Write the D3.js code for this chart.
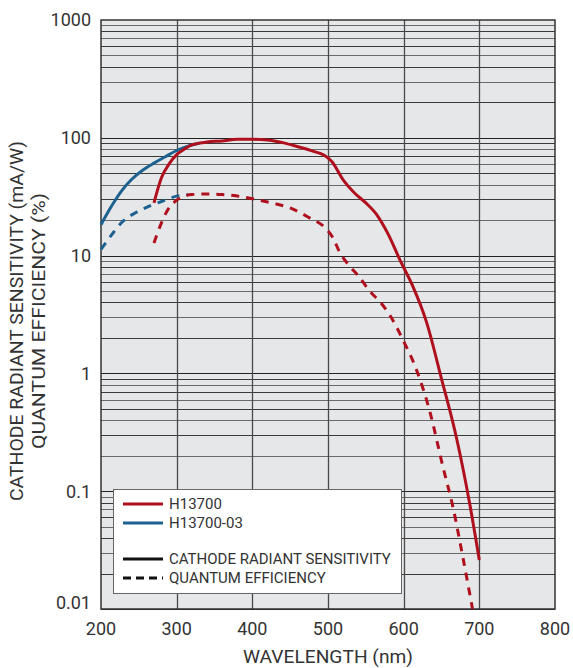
<!DOCTYPE html>
<html>
<head>
<meta charset="utf-8">
<script src="https://cdn.jsdelivr.net/npm/d3@7"></script>
<style>
  body { margin: 0; background: #fff; }
  text { font-family: Roboto, "Noto Sans", sans-serif; fill: #333; }
</style>
</head>
<body>
<svg id="chart" width="573" height="668"></svg>
<script>
// H13700 (red) and H13700-03 (blue) spectral response
const redCrsNm  = [270, 280, 290, 300, 310, 320, 340, 360, 380, 400, 420, 440, 460, 480, 495, 505, 520, 535, 550, 565, 580, 595, 612, 630, 650, 670, 687, 700];
const redCrsVal = [28, 46, 60, 72, 80, 87, 92, 94, 97, 97, 96, 91, 84, 77, 71, 63, 44, 34, 28, 22, 15, 9.2, 5.5, 2.75, 0.9, 0.28, 0.08, 0.026];

const redQeNm  = [270, 278, 287, 298, 310, 320, 340, 360, 380, 400, 425, 450, 475, 495, 507, 515, 529, 542, 555, 568, 582, 599, 617, 634, 652, 665, 678, 691];
const redQeVal = [12.8, 17.7, 23.7, 28.8, 32, 33, 33.3, 33, 32, 30.4, 28, 25.4, 21, 17.5, 14, 10.8, 8.1, 6.5, 5, 4.1, 3.1, 1.93, 1.07, 0.49, 0.16, 0.074, 0.028, 0.01];

const blueCrsNm  = [200, 215, 228, 240, 255, 270, 285, 300, 315, 330];
const blueCrsVal = [18.3, 27, 36, 44, 53, 61, 69, 78, 85, 90];

const blueQeNm  = [200, 214, 227, 245, 262, 280, 300, 315];
const blueQeVal = [11.3, 15, 19, 23, 26, 28.8, 32, 32.8];

const xTicks = [200, 300, 400, 500, 600, 700, 800];
const yTicks = [0.01, 0.1, 1, 10, 100, 1000];
const yTickLabels = ["0.01", "0.1", "1", "10", "100", "1000"];

const RED = "#b0101e", BLUE = "#1d6190";

const svg = d3.select("#chart");
const m = { left: 101, right: 555, top: 20, bottom: 609 };

const x = d3.scaleLinear().domain([200, 800]).range([m.left, m.right]);
const y = d3.scaleLog().domain([0.01, 1000]).range([m.bottom, m.top]);

// plot background
svg.append("rect")
  .attr("x", m.left).attr("y", m.top)
  .attr("width", m.right - m.left).attr("height", m.bottom - m.top)
  .attr("fill", "#e6e7e9");

// grid
const minor = [];
for (let e = -2; e < 3; e++) for (let k = 1; k <= 9; k++) minor.push(k * Math.pow(10, e));

svg.append("g").selectAll("line").data(minor).enter().append("line")
  .attr("x1", m.left).attr("x2", m.right)
  .attr("y1", d => Math.round(y(d)) + 0.5).attr("y2", d => Math.round(y(d)) + 0.5)
  .attr("stroke", (d, i) => (i % 9 === 0) ? "#222" : (i % 2 ? "#3a3a3a" : "#6a6a6a"))
  .attr("stroke-width", 1.2);

svg.append("g").selectAll("line").data(xTicks.slice(1, -1)).enter().append("line")
  .attr("x1", d => Math.round(x(d)) + 0.5).attr("x2", d => Math.round(x(d)) + 0.5)
  .attr("y1", m.top).attr("y2", m.bottom)
  .attr("stroke", "#4a4a4a").attr("stroke-width", 1.3);

svg.append("rect")
  .attr("x", m.left).attr("y", m.top)
  .attr("width", m.right - m.left).attr("height", m.bottom - m.top)
  .attr("fill", "none").attr("stroke", "#333").attr("stroke-width", 1.5);

// curves
const line = d3.line()
  .x(d => x(d[0])).y(d => y(d[1]))
  .curve(d3.curveMonotoneX);

function drawCurve(nm, vals, color, dashed) {
  svg.append("path")
    .datum(nm.map((n, i) => [n, vals[i]]))
    .attr("d", line)
    .attr("fill", "none")
    .attr("stroke", color)
    .attr("stroke-width", 3)
    .attr("stroke-dasharray", dashed ? "8,7" : null);
}
drawCurve(blueQeNm, blueQeVal, BLUE, true);
drawCurve(blueCrsNm, blueCrsVal, BLUE, false);
drawCurve(redQeNm, redQeVal, RED, true);
drawCurve(redCrsNm, redCrsVal, RED, false);

// axes labels
svg.append("g").selectAll("text").data(xTicks).enter().append("text")
  .attr("x", d => x(d)).attr("y", 635)
  .attr("text-anchor", "middle").attr("font-size", 18)
  .text(d => d);

svg.append("g").selectAll("text").data(yTicks).enter().append("text")
  .attr("x", 91).attr("y", (d, i) => y(d) + (i === 0 ? -6 : 0))
  .attr("dy", "0.36em")
  .attr("text-anchor", "end").attr("font-size", 18)
  .text((d, i) => yTickLabels[i]);

svg.append("text")
  .attr("x", (m.left + m.right) / 2).attr("y", 663)
  .attr("text-anchor", "middle").attr("font-size", 18)
  .attr("textLength", 170).attr("lengthAdjust", "spacingAndGlyphs")
  .text("WAVELENGTH (nm)");

const yt = svg.append("text")
  .attr("transform", "translate(0,321) rotate(-90)")
  .attr("text-anchor", "middle").attr("font-size", 18.5);
yt.append("tspan").attr("x", 0).attr("y", 23)
  .attr("textLength", 360).attr("lengthAdjust", "spacingAndGlyphs")
  .text("CATHODE RADIANT SENSITIVITY (mA/W)");
yt.append("tspan").attr("x", 0).attr("y", 45)
  .attr("textLength", 256).attr("lengthAdjust", "spacingAndGlyphs")
  .text("QUANTUM EFFICIENCY (%)");

// legend
const lg = svg.append("g");
lg.append("rect")
  .attr("x", 113.5).attr("y", 489.5).attr("width", 288).attr("height", 104)
  .attr("fill", "#fff").attr("stroke", "#666").attr("stroke-width", 1);

const legendItems = [
  { label: "H13700", color: RED, dash: null, y: 504 },
  { label: "H13700-03", color: BLUE, dash: null, y: 523 },
  { label: "CATHODE RADIANT SENSITIVITY", color: "#111", dash: null, y: 559 },
  { label: "QUANTUM EFFICIENCY", color: "#111", dash: "8,5", y: 578 }
];
legendItems.forEach(it => {
  lg.append("line")
    .attr("x1", 123).attr("x2", 163).attr("y1", it.y).attr("y2", it.y)
    .attr("stroke", it.color).attr("stroke-width", 3)
    .attr("stroke-dasharray", it.dash);
  lg.append("text")
    .attr("x", 169).attr("y", it.y).attr("dy", "0.36em")
    .attr("font-size", 15)
    .text(it.label);
});
</script>
</body>
</html>
